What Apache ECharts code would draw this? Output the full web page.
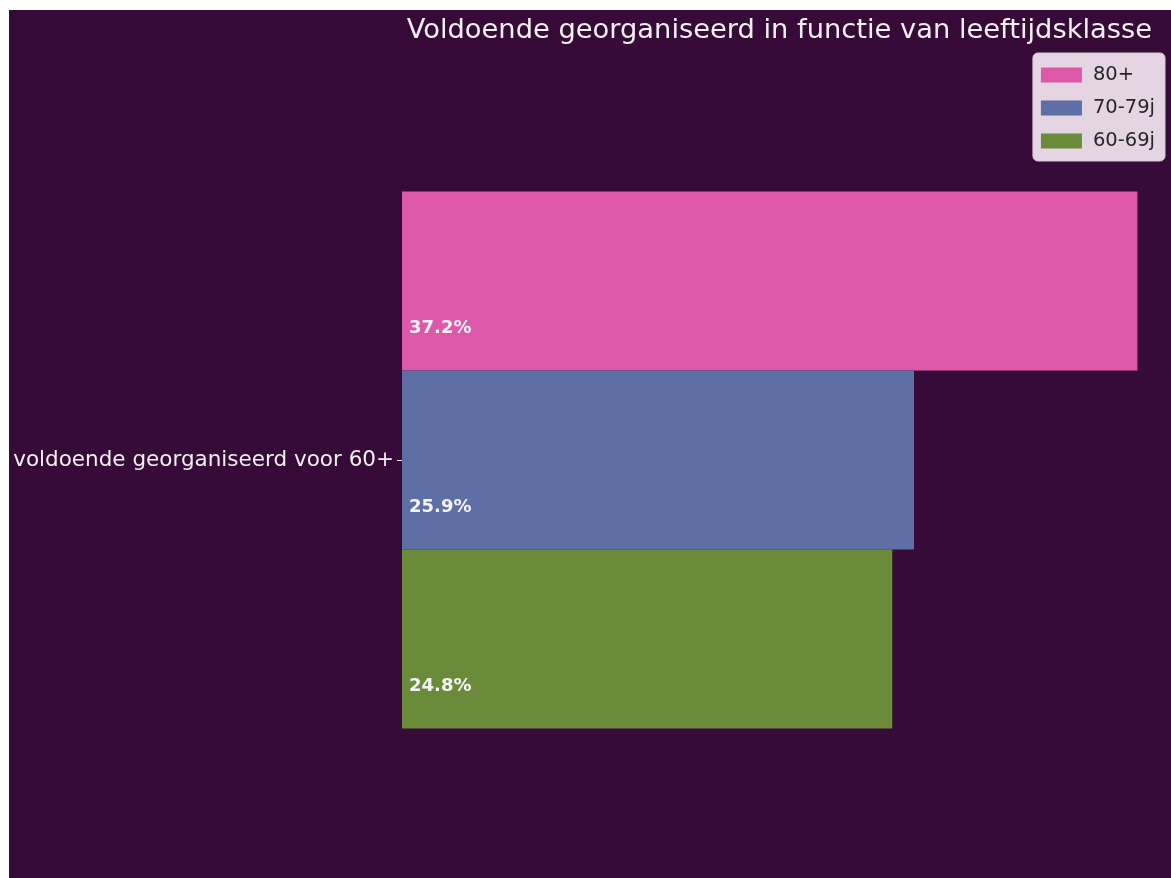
<!DOCTYPE html>
<html>
<head>
<meta charset="utf-8">
<script src="https://cdn.jsdelivr.net/npm/echarts@6/dist/echarts.min.js"></script>
<style>
  html, body { margin: 0; padding: 0; background: #ffffff; width: 1171px; height: 878px; overflow: hidden; }
  #chart { position: absolute; left: 9px; top: 10px; width: 1162px; height: 868px; }
</style>
</head>
<body>
<div id="chart"></div>
<script>
const titleText = 'Voldoende georganiseerd in functie van leeftijdsklasse';
const categories = ['voldoende georganiseerd voor 60+'];
const seriesNames = ['80+', '70-79j', '60-69j'];
const values80 = [37.2];
const values7079 = [25.9];
const values6069 = [24.8];
const seriesColors = ['#dd58a9', '#5e6fa6', '#6a8b3a'];

const seriesValues = [values80, values7079, values6069];
const chart = echarts.init(document.getElementById('chart'));
const series = seriesNames.map((name, i) => ({
  name: name,
  type: 'bar',
  data: seriesValues[i],
  barWidth: 179,
  barGap: '0%',
  itemStyle: { color: seriesColors[i] },
  label: {
    show: true,
    position: [7, 137],
    align: 'left',
    verticalAlign: 'middle',
    color: '#f4f4f4',
    fontFamily: 'DejaVu Sans',
    fontWeight: 'bold',
    fontSize: 18,
    formatter: p => p.value.toFixed(1) + '%'
  }
}));

chart.setOption({
  backgroundColor: '#370b37',
  animation: false,
  title: {
    text: titleText,
    right: 14,
    top: 2,
    textStyle: { color: '#f0f0f0', fontFamily: 'DejaVu Sans', fontWeight: 'normal', fontSize: 27.3 }
  },
  legend: {
    data: seriesNames,
    orient: 'vertical',
    right: 6,
    top: 43,
    padding: [12, 10, 10, 8],
    itemWidth: 41,
    itemHeight: 15,
    itemGap: 13,
    icon: 'rect',
    backgroundColor: 'rgba(238,224,236,0.95)',
    borderColor: '#d8c8d6',
    borderWidth: 1,
    borderRadius: 5,
    textStyle: { color: '#262626', fontFamily: 'DejaVu Sans', fontSize: 19.5, lineHeight: 19, padding: [0, 0, 0, 6] }
  },
  grid: { left: 393, right: 0, top: 32, bottom: 0, containLabel: false },
  xAxis: {
    type: 'value',
    min: 0,
    max: 38.9,
    show: false
  },
  yAxis: {
    type: 'category',
    data: categories,
    inverse: true,
    axisLine: { show: false },
    axisTick: { show: true, length: 5, lineStyle: { color: '#f0f0f0', width: 1 }, alignWithLabel: true },
    axisLabel: { color: '#f0f0f0', fontFamily: 'DejaVu Sans', fontSize: 21.5, margin: 8 },
    splitLine: { show: false }
  },
  series: series
});
</script>
</body>
</html>
